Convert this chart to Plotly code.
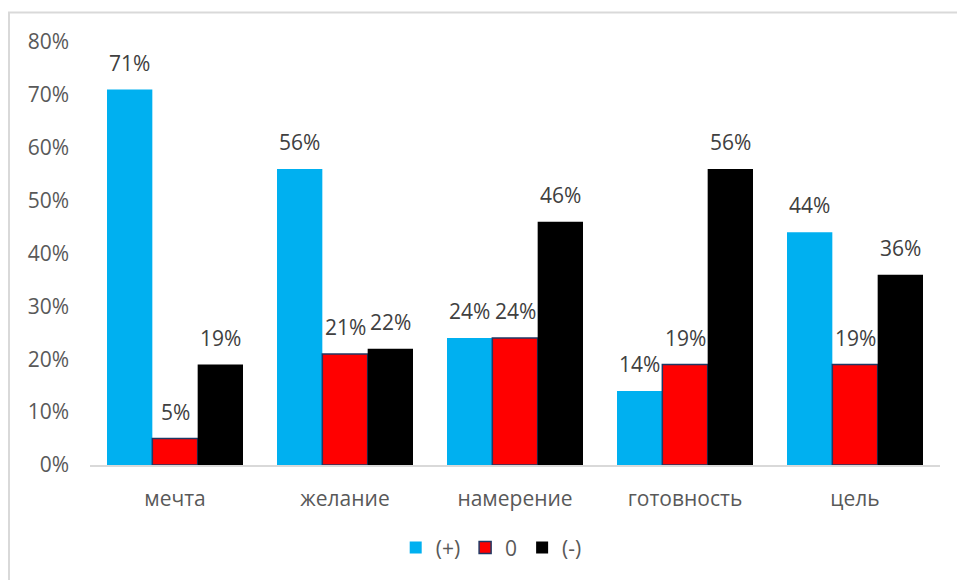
import plotly.graph_objects as go

categories = ["мечта", "желание", "намерение", "готовность", "цель"]
series_names = ["(+)", "0", "(-)"]
plus_vals = [0.71, 0.56, 0.24, 0.14, 0.44]
zero_vals = [0.05, 0.21, 0.24, 0.19, 0.19]
minus_vals = [0.19, 0.22, 0.46, 0.56, 0.36]
y_ticks = [0, 0.1, 0.2, 0.3, 0.4, 0.5, 0.6, 0.7, 0.8]

colors = ["#00B0F0", "#FF0000", "#000000"]
edge_colors = ["#00B0F0", "#203864", "#000000"]
edge_widths = [0, 1.5, 0]
FONT = "Open Sans, Calibri, sans-serif"
FS = 21

fig = go.Figure()
all_vals = [plus_vals, zero_vals, minus_vals]
for name, vals, c, ec, ew in zip(series_names, all_vals, colors, edge_colors, edge_widths):
    fig.add_trace(go.Bar(
        x=categories, y=vals, name=name,
        marker=dict(color=c, line=dict(color=ec, width=ew)),
    ))

# value labels above each bar
plot_w = 957 - 90 - 17
bar_px = plot_w / len(categories) * 0.8 / 3
for i, vals in enumerate(all_vals):
    for cat, v in zip(categories, vals):
        fig.add_annotation(
            x=cat, y=v, xref="x", yref="y",
            text=f"{round(v * 100)}%", showarrow=False,
            xshift=(i - 1) * bar_px, yshift=27, yanchor="middle",
            font=dict(family=FONT, size=FS, color="#404040"),
        )

# outer frame
fig.add_shape(
    type="rect", xref="paper", yref="paper",
    x0=(9 - 90) / plot_w, x1=(962 - 90) / plot_w,
    y0=(465 - 590) / 423, y1=(465 - 12.5) / 423,
    line=dict(color="#D9D9D9", width=2), fillcolor="rgba(0,0,0,0)",
)

fig.update_layout(
    width=957, height=580,
    margin=dict(l=90, r=17, t=42, b=115),
    paper_bgcolor="white", plot_bgcolor="white",
    barmode="group", bargap=0.2, bargroupgap=0,
    font=dict(family=FONT, size=FS, color="#595959"),
    showlegend=True,
    legend=dict(
        orientation="h", x=0.472, xanchor="center", y=-0.196, yanchor="middle",
        font=dict(family=FONT, size=FS, color="#595959"),
        itemwidth=30, traceorder="normal",
    ),
    xaxis=dict(
        showline=True, linecolor="#D9D9D9", linewidth=2,
        showgrid=False, ticks="", ticklabelstandoff=14,
        tickfont=dict(family=FONT, size=FS, color="#595959"),
    ),
    yaxis=dict(
        range=[0, 0.8], tickvals=y_ticks, tickformat=".0%",
        showgrid=False, zeroline=False, showline=False, ticks="",
        ticklabelstandoff=20,
        tickfont=dict(family=FONT, size=FS, color="#595959"),
    ),
)

fig.write_html("out.html")
